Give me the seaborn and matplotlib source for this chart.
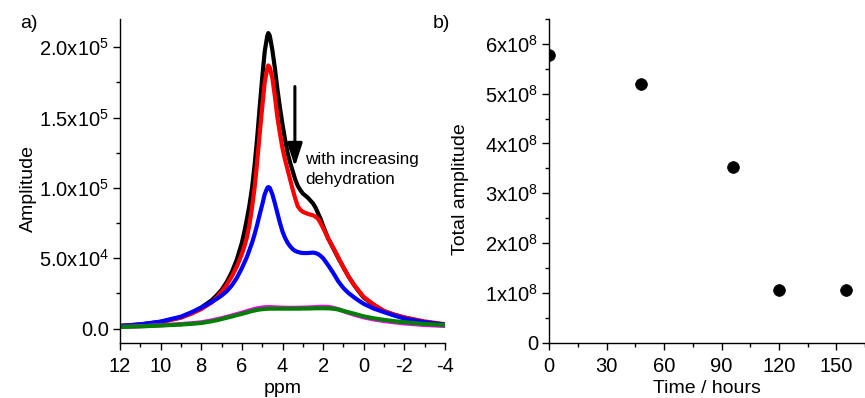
import numpy as np
import pandas as pd
import matplotlib
matplotlib.use("Agg")
import matplotlib.pyplot as plt
import seaborn as sns
from matplotlib.ticker import MultipleLocator, FixedLocator, FixedFormatter

# ---------------- data ----------------
ppm = [12, 11, 10, 9, 8.5, 8, 7.5, 7.25, 7, 6.75, 6.5, 6.25, 6, 5.875, 5.75, 5.625,
       5.5, 5.375, 5.25, 5.125, 5, 4.875, 4.75, 4.7, 4.625, 4.5, 4.375, 4.25, 4.125,
       4, 3.875, 3.75, 3.625, 3.5, 3.375, 3.25, 3.125, 3, 2.75, 2.5, 2.375, 2.25,
       2.125, 2, 1.75, 1.5, 1.25, 1, 0.75, 0.5, 0.25, 0, -0.5, -1, -1.5, -2, -3, -4]

amp_black = [2.0e3, 3.0e3, 4.8e3, 8.0e3, 1.1e4, 1.5e4, 2.0e4, 2.35e4, 2.75e4, 3.3e4,
             4.0e4, 4.9e4, 6.1e4, 6.9e4, 7.8e4, 8.8e4, 1.0e5, 1.16e5, 1.35e5, 1.57e5,
             1.78e5, 1.97e5, 2.08e5, 2.10e5, 2.08e5, 1.98e5, 1.85e5, 1.70e5, 1.57e5,
             1.45e5, 1.345e5, 1.25e5, 1.18e5, 1.12e5, 1.06e5, 1.015e5, 9.85e4, 9.6e4,
             9.3e4, 8.9e4, 8.6e4, 8.2e4, 7.8e4, 7.3e4, 6.4e4, 5.7e4, 5.0e4, 4.35e4,
             3.7e4, 3.15e4, 2.65e4, 2.2e4, 1.67e4, 1.24e4, 9.8e3, 7.8e3, 4.6e3, 2.8e3]
amp_red = [1.8e3, 2.8e3, 4.6e3, 7.8e3, 1.05e4, 1.39e4, 1.85e4, 2.2e4, 2.6e4, 3.1e4,
           3.7e4, 4.4e4, 5.3e4, 5.85e4, 6.5e4, 7.4e4, 8.6e4, 1.0e5, 1.18e5, 1.38e5,
           1.57e5, 1.75e5, 1.85e5, 1.87e5, 1.855e5, 1.78e5, 1.65e5, 1.50e5, 1.385e5,
           1.28e5, 1.2e5, 1.13e5, 1.06e5, 9.9e4, 9.25e4, 8.7e4, 8.45e4, 8.3e4,
           8.15e4, 8.05e4, 7.95e4, 7.8e4, 7.5e4, 7.15e4, 6.4e4, 5.75e4, 5.05e4, 4.35e4,
           3.7e4, 3.15e4, 2.7e4, 2.25e4, 1.7e4, 1.25e4, 1.0e4, 8.0e3, 5.1e3, 3.1e3]
amp_blue = [1.8e3, 3.0e3, 5.0e3, 8.5e3, 1.15e4, 1.49e4, 1.88e4, 2.1e4, 2.35e4, 2.65e4,
            3.06e4, 3.6e4, 4.3e4, 4.7e4, 5.1e4, 5.6e4, 6.1e4, 6.7e4, 7.36e4, 8.1e4,
            8.8e4, 9.55e4, 1.0e5, 1.006e5, 1.0e5, 9.55e4, 8.9e4, 8.2e4, 7.5e4,
            6.9e4, 6.45e4, 6.1e4, 5.85e4, 5.65e4, 5.52e4, 5.45e4, 5.4e4, 5.37e4,
            5.37e4, 5.4e4, 5.37e4, 5.3e4, 5.17e4, 5.0e4, 4.5e4, 3.95e4, 3.35e4, 2.88e4,
            2.53e4, 2.25e4, 1.99e4, 1.76e4, 1.42e4, 1.17e4, 9.3e3, 7.1e3, 4.6e3, 2.8e3]
amp_magenta = [1.2e3, 1.7e3, 2.4e3, 3.2e3, 3.8e3, 4.5e3, 5.8e3, 6.6e3, 7.4e3, 8.3e3,
               9.3e3, 1.03e4, 1.13e4, 1.19e4, 1.24e4, 1.3e4, 1.35e4, 1.4e4, 1.44e4, 1.47e4,
               1.5e4, 1.52e4, 1.53e4, 1.53e4, 1.53e4, 1.52e4, 1.51e4, 1.5e4, 1.495e4,
               1.49e4, 1.485e4, 1.48e4, 1.48e4, 1.48e4, 1.48e4, 1.48e4, 1.485e4, 1.49e4,
               1.5e4, 1.52e4, 1.53e4, 1.54e4, 1.545e4, 1.55e4, 1.54e4, 1.48e4, 1.38e4, 1.25e4,
               1.12e4, 1.0e4, 9.0e3, 8.0e3, 6.5e3, 5.4e3, 4.5e3, 3.7e3, 2.6e3, 1.9e3]
amp_green = [1.2e3, 1.6e3, 2.2e3, 2.9e3, 3.4e3, 4.0e3, 5.2e3, 5.9e3, 6.8e3, 7.7e3,
             8.6e3, 9.6e3, 1.05e4, 1.1e4, 1.15e4, 1.2e4, 1.25e4, 1.29e4, 1.33e4, 1.36e4,
             1.38e4, 1.4e4, 1.41e4, 1.41e4, 1.42e4, 1.42e4, 1.42e4, 1.42e4, 1.42e4,
             1.42e4, 1.42e4, 1.42e4, 1.42e4, 1.42e4, 1.42e4, 1.42e4, 1.42e4, 1.43e4,
             1.43e4, 1.44e4, 1.445e4, 1.45e4, 1.45e4, 1.45e4, 1.44e4, 1.42e4, 1.36e4, 1.25e4,
             1.16e4, 1.07e4, 9.7e3, 8.7e3, 7.3e3, 6.2e3, 5.3e3, 4.5e3, 3.3e3, 2.5e3]

series_colors = ["black", "#ff0000", "#0000ff", "#ff00ff", "#008000"]

left_yticks = [0, 5e4, 1e5, 1.5e5, 2e5]
left_yticklabels = ["0.0", "5.0x10$^{4}$", "1.0x10$^{5}$", "1.5x10$^{5}$", "2.0x10$^{5}$"]
left_xticks = [12, 10, 8, 6, 4, 2, 0, -2, -4]

time_h = [0, 48, 96, 120, 155]
total_amp = [5.78e8, 5.2e8, 3.52e8, 1.05e8, 1.05e8]

right_yticks = [0, 1e8, 2e8, 3e8, 4e8, 5e8, 6e8]
right_yticklabels = ["0", "1x10$^{8}$", "2x10$^{8}$", "3x10$^{8}$", "4x10$^{8}$",
                     "5x10$^{8}$", "6x10$^{8}$"]
right_xticks = [0, 30, 60, 90, 120, 150]

# ---------------- style ----------------
sns.set_style("ticks")
plt.rcParams["font.family"] = ["Liberation Sans", "DejaVu Sans"]
plt.rcParams["mathtext.default"] = "regular"
plt.rcParams["axes.unicode_minus"] = False
plt.rcParams["axes.linewidth"] = 1.0
for k in ("text.color", "axes.labelcolor", "xtick.color", "ytick.color", "axes.edgecolor"):
    plt.rcParams[k] = "black"

W, H = 865, 398
fig = plt.figure(figsize=(W / 100, H / 100), dpi=100)

ax1 = fig.add_axes([120 / W, (H - 342.7) / H, 325 / W, 323.7 / H])
ax2 = fig.add_axes([549.3 / W, (H - 342.7) / H, (W - 549.3) / W, 323.7 / H])

# ---------------- panel a ----------------
spectra = [amp_black, amp_red, amp_blue, amp_magenta, amp_green]
for amp, col in zip(spectra, series_colors):
    df = pd.DataFrame({"ppm": ppm, "amp": amp})
    sns.lineplot(data=df, x="ppm", y="amp", ax=ax1, color=col, lw=3.0,
                 sort=False, estimator=None)

ax1.set_xlim(12, -4)
ax1.set_ylim(-1.0e4, 2.2e5)
ax1.xaxis.set_major_locator(FixedLocator(left_xticks))
ax1.xaxis.set_minor_locator(MultipleLocator(1))
ax1.yaxis.set_major_locator(FixedLocator(left_yticks))
ax1.yaxis.set_major_formatter(FixedFormatter(left_yticklabels))
ax1.yaxis.set_minor_locator(MultipleLocator(2.5e4))
ax1.set_xlabel("ppm", fontsize=14)
ax1.set_ylabel("Amplitude", fontsize=14)

ax1.annotate("", xy=(3.39, 1.15e5), xytext=(3.39, 1.72e5),
             arrowprops=dict(arrowstyle="-|>,head_length=1.4,head_width=0.45",
                             color="black", lw=2.2, shrinkA=0, shrinkB=0))
ax1.text(2.9, 1.13e5, "with increasing\ndehydration", fontsize=12.3,
         ha="left", va="center", linespacing=1.35)

# ---------------- panel b ----------------
dfb = pd.DataFrame({"time": time_h, "total": total_amp})
sns.scatterplot(data=dfb, x="time", y="total", ax=ax2, color="black", s=72,
                edgecolor="black", linewidth=0.5)
ax2.set_xlim(0, 165)
ax2.set_ylim(0, 6.5e8)
ax2.xaxis.set_major_locator(FixedLocator(right_xticks))
ax2.xaxis.set_minor_locator(MultipleLocator(15))
ax2.yaxis.set_major_locator(FixedLocator(right_yticks))
ax2.yaxis.set_major_formatter(FixedFormatter(right_yticklabels))
ax2.yaxis.set_minor_locator(MultipleLocator(0.5e8))
ax2.set_xlabel("Time / hours", fontsize=14)
ax2.set_ylabel("Total amplitude", fontsize=14)

for ax in (ax1, ax2):
    sns.despine(ax=ax)
    ax.tick_params(which="major", direction="out", length=5, width=1,
                   labelsize=14.5, color="black", labelcolor="black")
    ax.tick_params(axis="x", which="major", pad=5)
    ax.tick_params(axis="y", which="major", pad=3)
    ax.tick_params(which="minor", direction="out", length=3, width=1, color="black")
    for s in ("left", "bottom"):
        ax.spines[s].set_color("black")

ax1.xaxis.set_label_coords(0.5, -0.115)
ax2.xaxis.set_label_coords(0.5, -0.115)
ax1.yaxis.set_label_coords(-0.257, 0.475)
ax2.yaxis.set_label_coords(-0.255, 0.475)

fig.text(20 / W, 1 - 28 / H, "a)", fontsize=14, ha="left", va="baseline")
fig.text(433 / W, 1 - 28 / H, "b)", fontsize=14, ha="left", va="baseline")

fig.savefig("out.png", dpi=100)
